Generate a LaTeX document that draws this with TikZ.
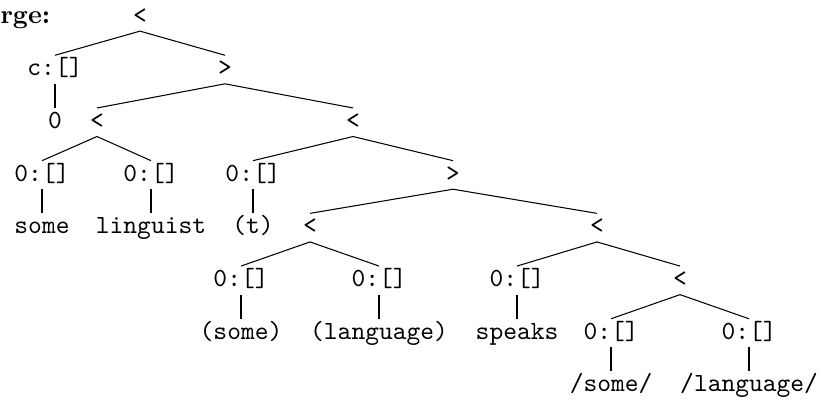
\documentclass[tikz,border=0pt]{standalone}
\usepackage{tikz}
\usetikzlibrary{positioning}

\begin{document}
\begin{tikzpicture}[x=0.3817pt, y=-0.3817pt,
		tn/.style={font=\ttfamily, inner sep=1.5pt, text height=6.1pt, text depth=1.4pt, anchor=base}]
		\useasboundingbox (0,0) rectangle (823,400);
		%-------------------------------------------------------------------------------
		% merge tree
		%-------------------------------------------------------------------------------
		\node[anchor=base west, inner sep=0pt, font=\bfseries] (title) at (0,23) {rge:};

		% level 1 and 2
		\node[tn] (root) at (140,23) {<};
		\node[tn] (ca) at (55,75.7) {c:[]};
		\node[tn] (gta) at (225,75.7) {>};
		% level 3
		\node[tn] (zero) at (55,128.4) {0};
		\node[tn] (lta) at (97,128.4) {<};
		\node[tn] (ltb) at (353,128.4) {<};
		% level 4
		\node[tn] (ea) at (42,181.1) {0:[]};
		\node[tn] (eb) at (151,181.1) {0:[]};
		\node[tn] (ec) at (253,181.1) {0:[]};
		\node[tn] (gtb) at (453,181.1) {>};
		% level 5
		\node[tn] (wa) at (42,233.8) {some};
		\node[tn] (wb) at (151,233.8) {linguist};
		\node[tn] (wc) at (253,233.8) {(t)};
		\node[tn] (ltc) at (310,233.8) {<};
		\node[tn] (ltd) at (597,233.8) {<};
		% level 6
		\node[tn] (ed) at (241,286.5) {0:[]};
		\node[tn] (ee) at (379,286.5) {0:[]};
		\node[tn] (ef) at (517,286.5) {0:[]};
		\node[tn] (lte) at (680,286.5) {<};
		% level 7
		\node[tn] (wd) at (241,339.2) {(some)};
		\node[tn] (we) at (379,339.2) {(language)};
		\node[tn] (wf) at (517,339.2) {speaks};
		\node[tn] (eg) at (611,339.2) {0:[]};
		\node[tn] (eh) at (749,339.2) {0:[]};
		% level 8
		\node[tn] (wg) at (611,391.9) {/some/};
		\node[tn] (wh) at (749,391.9) {/language/};

		% branches
		\draw (root.south) -- (ca.north);
		\draw (root.south) -- (gta.north);
		\draw (ca.south) -- (zero.north);
		\draw (gta.south) -- (lta.north);
		\draw (gta.south) -- (ltb.north);
		\draw (lta.south) -- (ea.north);
		\draw (lta.south) -- (eb.north);
		\draw (ea.south) -- (wa.north);
		\draw (eb.south) -- (wb.north);
		\draw (ltb.south) -- (ec.north);
		\draw (ltb.south) -- (gtb.north);
		\draw (ec.south) -- (wc.north);
		\draw (gtb.south) -- (ltc.north);
		\draw (gtb.south) -- (ltd.north);
		\draw (ltc.south) -- (ed.north);
		\draw (ltc.south) -- (ee.north);
		\draw (ed.south) -- (wd.north);
		\draw (ee.south) -- (we.north);
		\draw (ltd.south) -- (ef.north);
		\draw (ltd.south) -- (lte.north);
		\draw (ef.south) -- (wf.north);
		\draw (lte.south) -- (eg.north);
		\draw (lte.south) -- (eh.north);
		\draw (eg.south) -- (wg.north);
		\draw (eh.south) -- (wh.north);
\end{tikzpicture}
\end{document}
